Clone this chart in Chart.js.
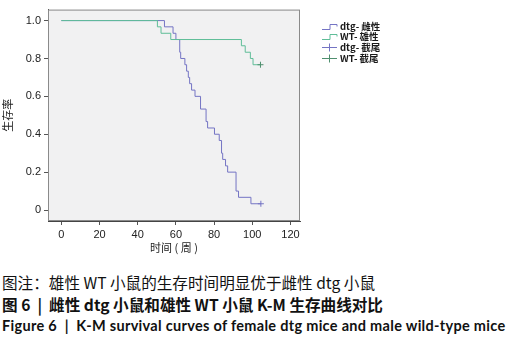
<!DOCTYPE html>
<html>
<head>
<meta charset="utf-8">
<script src="https://cdn.jsdelivr.net/npm/chart.js@4.4.1/dist/chart.umd.min.js"></script>
<style>
  body { margin: 0; background: #fff; width: 508px; height: 347px; overflow: hidden; position: relative; }
  #wrap { position: absolute; left: 0; top: 0; width: 508px; height: 256px; }
  .cap { position: absolute; left: 2px; white-space: nowrap; color: #111; }
  #c1 { top: 271px; font: 15.6px "Noto Sans CJK SC", sans-serif; }
  #c2 { top: 293px; font: bold 15.6px "Noto Sans CJK SC", sans-serif; }
  #c3 { top: 317px; font: bold 14.5px Lato, "Noto Sans", sans-serif; letter-spacing: 0.3px; }
</style>
</head>
<body>
<div id="wrap"><canvas id="km"></canvas></div>
<div class="cap" id="c1">图注：雄性 WT 小鼠的生存时间明显优于雌性 dtg 小鼠</div>
<div class="cap" id="c2">图 6 &nbsp;|&nbsp; 雌性 dtg 小鼠和雄性 WT 小鼠 K-M 生存曲线对比</div>
<div class="cap" id="c3">Figure 6 &nbsp;|&nbsp; K-M survival curves of female dtg mice and male wild-type mice</div>
<script>
// survival steps (weeks, survival proportion)
const dtgTimes = [0, 54, 58.5, 60, 62, 62.5, 64.7, 65.6, 66.5, 67.2, 68.2, 70, 72.9, 75.8, 76.6, 80.2, 82.7, 83.9, 84.5, 86, 87.1, 91.5, 92.8, 99.3, 104.5];
const dtgSurv = [1, 0.967, 0.933, 0.9, 0.833, 0.8, 0.767, 0.733, 0.7, 0.667, 0.633, 0.6, 0.533, 0.467, 0.433, 0.4, 0.367, 0.3, 0.267, 0.233, 0.2, 0.1, 0.067, 0.033, 0.033];
const wtTimes = [0, 50.3, 52.2, 57.3, 94.3, 96.3, 99, 100.4, 104.3];
const wtSurv = [1, 0.967, 0.933, 0.9, 0.867, 0.833, 0.8, 0.767, 0.767];
const dtgCensor = [[104.5, 0.033]];
const wtCensor = [[104.3, 0.767]];
const seriesNames = ["dtg- 雌性", "WT- 雄性", "dtg- 截尾", "WT- 截尾"];
const xTicks = [0, 20, 40, 60, 80, 100, 120];
const yTicks = [0, 0.2, 0.4, 0.6, 0.8, 1.0];

const dtgColor = "#7474c4";
const wtColor = "#5fbd98";

const toPts = (xs, ys) => xs.map((x, i) => ({ x: x, y: ys[i] }));

// grey plot background + frame
const frame = {
  id: "frame",
  beforeDraw(chart) {
    const { ctx, chartArea: a } = chart;
    ctx.save();
    ctx.fillStyle = "#f1f1f2";
    ctx.fillRect(a.left, a.top, a.right - a.left, a.bottom - a.top);
    ctx.restore();
  },
  afterDraw(chart) {
    const { ctx, chartArea: a } = chart;
    ctx.save();
    ctx.strokeStyle = "#8a8a8a";
    ctx.lineWidth = 1;
    ctx.strokeRect(a.left + 0.5, a.top + 0.5, a.right - a.left - 1, a.bottom - a.top - 1);
    ctx.restore();
  }
};

// SPSS style legend to the right of the plot
const sideLegend = {
  id: "sideLegend",
  afterDraw(chart) {
    const { ctx, chartArea: a } = chart;
    const x0 = a.right + 22;
    const rows = [26, 36, 47, 58];
    ctx.save();
    ctx.font = "bold 9.5px 'Noto Sans CJK SC', sans-serif";
    ctx.textBaseline = "middle";
    chart.data.datasets.forEach((ds, i) => {
      const y = rows[i] + 0.5;
      ctx.strokeStyle = ds.borderColor;
      ctx.lineWidth = 1;
      ctx.beginPath();
      if (i < 2) {
        ctx.moveTo(x0, y + 3);
        ctx.lineTo(x0 + 8, y + 3);
        ctx.lineTo(x0 + 8, y - 2);
        ctx.lineTo(x0 + 15, y - 2);
        ctx.lineTo(x0 + 15, y);
      } else {
        ctx.moveTo(x0, y);
        ctx.lineTo(x0 + 15, y);
        ctx.moveTo(x0 + 7.5, y - 4);
        ctx.lineTo(x0 + 7.5, y + 4);
      }
      ctx.stroke();
      ctx.fillStyle = "#1a1a1a";
      ctx.fillText(ds.label, x0 + 18, y);
    });
    ctx.restore();
  }
};

new Chart(document.getElementById("km"), {
  type: "line",
  data: {
    datasets: [
      { label: seriesNames[0], data: toPts(dtgTimes, dtgSurv), borderColor: dtgColor, borderWidth: 1, stepped: "before", pointRadius: 0, fill: false, order: 2 },
      { label: seriesNames[1], data: toPts(wtTimes, wtSurv), borderColor: wtColor, borderWidth: 1, stepped: "before", pointRadius: 0, fill: false, order: 1 },
      { label: seriesNames[2], data: dtgCensor.map(p => ({ x: p[0], y: p[1] })), borderColor: dtgColor, showLine: false, pointStyle: "cross", pointRadius: 3, pointBorderWidth: 1, order: 0 },
      { label: seriesNames[3], data: wtCensor.map(p => ({ x: p[0], y: p[1] })), borderColor: "#4f8f6f", showLine: false, pointStyle: "cross", pointRadius: 3, pointBorderWidth: 1, order: 0 }
    ]
  },
  options: {
    responsive: true,
    maintainAspectRatio: false,
    animation: false,
    layout: { padding: { top: 8, right: 208, left: 0, bottom: 0 } },
    plugins: { legend: { display: false }, tooltip: { enabled: false } },
    scales: {
      x: {
        type: "linear",
        min: -7,
        max: 125,
        afterBuildTicks: s => { s.ticks = xTicks.map(v => ({ value: v })); },
        afterFit: s => { s.height = 35; },
        grid: { drawOnChartArea: false, drawTicks: true, tickLength: 4, color: "#555" },
        border: { display: true, color: "#444" },
        ticks: { color: "#222", padding: 3, font: { family: "'Liberation Sans', Arial, sans-serif", size: 11 } },
        title: { display: true, text: "时间 ( 周 )", color: "#222", padding: { top: 0, bottom: 2 }, font: { family: "'Noto Sans CJK SC', sans-serif", size: 11 } }
      },
      y: {
        min: -0.058,
        max: 1.058,
        afterBuildTicks: s => { s.ticks = yTicks.map(v => ({ value: v })); },
        afterFit: s => { s.width = 48; },
        grid: { drawOnChartArea: false, drawTicks: true, tickLength: 4, color: "#555" },
        border: { display: true, color: "#444" },
        ticks: { color: "#222", padding: 3, callback: v => (v === 0 ? "0" : v.toFixed(1)), font: { family: "'Liberation Sans', Arial, sans-serif", size: 11 } },
        title: { display: true, text: "生存率", color: "#222", padding: { top: 1, bottom: 0 }, font: { family: "'Noto Sans CJK SC', sans-serif", size: 11 } }
      }
    }
  },
  plugins: [frame, sideLegend]
});
</script>
</body>
</html>
